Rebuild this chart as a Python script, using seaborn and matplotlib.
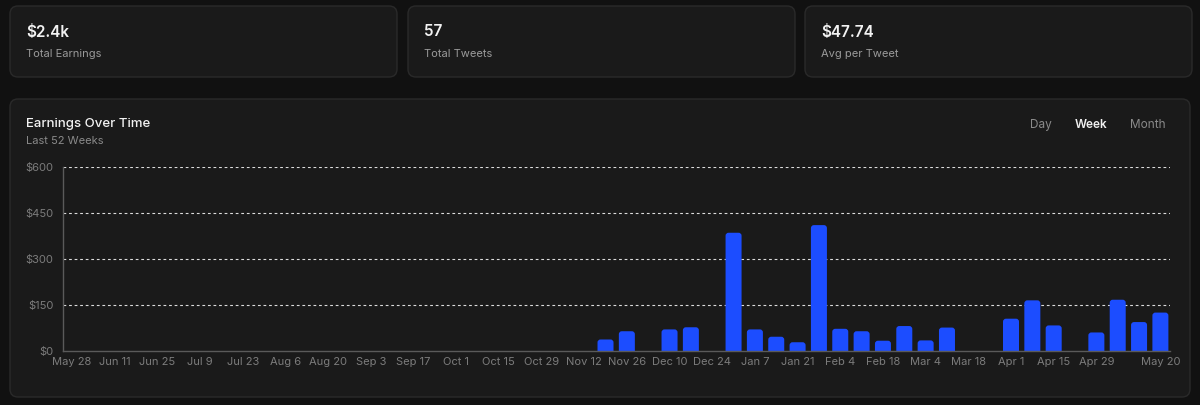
import matplotlib
matplotlib.use("Agg")
import matplotlib.pyplot as plt
from matplotlib.patches import FancyBboxPatch
import pandas as pd
import seaborn as sns

weeks = [
    "May 28", "Jun 4", "Jun 11", "Jun 18", "Jun 25", "Jul 2", "Jul 9", "Jul 16",
    "Jul 23", "Jul 30", "Aug 6", "Aug 13", "Aug 20", "Aug 27", "Sep 3", "Sep 10",
    "Sep 17", "Sep 24", "Oct 1", "Oct 8", "Oct 15", "Oct 22", "Oct 29", "Nov 5",
    "Nov 12", "Nov 19", "Nov 26", "Dec 3", "Dec 10", "Dec 17", "Dec 24", "Dec 31",
    "Jan 7", "Jan 14", "Jan 21", "Jan 28", "Feb 4", "Feb 11", "Feb 18", "Feb 25",
    "Mar 4", "Mar 11", "Mar 18", "Mar 25", "Apr 1", "Apr 8", "Apr 15", "Apr 22",
    "Apr 29", "May 6", "May 13", "May 20",
]
earnings = [
    0, 0, 0, 0, 0, 0, 0, 0, 0, 0, 0, 0, 0, 0, 0, 0,
    0, 0, 0, 0, 0, 0, 0, 0, 0, 36, 63, 0, 69, 76, 0, 385,
    69, 45, 27, 410, 71, 63, 32, 80, 33, 75, 0, 0, 104, 164, 82, 0,
    59, 166, 93, 124,
]
tick_weeks = [
    "May 28", "Jun 11", "Jun 25", "Jul 9", "Jul 23", "Aug 6", "Aug 20", "Sep 3",
    "Sep 17", "Oct 1", "Oct 15", "Oct 29", "Nov 12", "Nov 26", "Dec 10", "Dec 24",
    "Jan 7", "Jan 21", "Feb 4", "Feb 18", "Mar 4", "Mar 18", "Apr 1", "Apr 15",
    "Apr 29", "May 20",
]
y_ticks = [0, 150, 300, 450, 600]
y_labels = ["$0", "$150", "$300", "$450", "$600"]

stat_values = ["$2.4k", "57", "$47.74"]
stat_labels = ["Total Earnings", "Total Tweets", "Avg per Tweet"]
periods = ["Day", "Week", "Month"]

BG = "#111111"
PANEL = "#1a1a1a"
BORDER = "#2a2a2a"
BLUE = "#1c4dff"
MUTED = "#7c7c7c"

sns.set_theme(style="dark")
plt.rcParams["font.family"] = ["Inter", "DejaVu Sans"]

W, H = 1200, 405
fig = plt.figure(figsize=(W / 100, H / 100), dpi=100, facecolor=BG)


def px_box(x0, y0, x1, y1, r=8):
    # pixel coords from top-left, drawn in inches
    box = FancyBboxPatch(
        (x0 / 100, (H - y1) / 100), (x1 - x0) / 100, (y1 - y0) / 100,
        boxstyle=f"round,pad=0,rounding_size={r / 100}",
        transform=fig.dpi_scale_trans, facecolor=PANEL, edgecolor=BORDER,
        linewidth=1.0, zorder=-1,
    )
    fig.patches.append(box)


def px_text(x, y, s, **kw):
    fig.text(x / W, 1 - y / H, s, va="center", **kw)


# stat cards
card_x = [10, 408, 805]
for cx, val, lab in zip(card_x, stat_values, stat_labels):
    px_box(cx, 6, cx + 387, 77)
    px_text(cx + 16, 32, val, color="#f2f2f2", fontsize=11, fontweight="semibold")
    px_text(cx + 16, 54, lab, color="#9a9a9a", fontsize=8)

# chart panel
px_box(10, 99, 1190, 397)
px_text(26, 124, "Earnings Over Time", color="#f2f2f2", fontsize=9.5, fontweight="medium")
px_text(26, 141, "Last 52 Weeks", color="#8a8a8a", fontsize=8)
for px, p in zip([1041, 1091, 1148], periods):
    active = p == "Week"
    px_text(px, 125, p, ha="center", fontsize=8.5,
            color="#f0f0f0" if active else "#8a8a8a",
            fontweight="semibold" if active else "normal")

# bars
df = pd.DataFrame({"week": weeks, "earnings": earnings})
ax = fig.add_axes([63 / W, 1 - 350.5 / H, 1107 / W, 183.5 / H])
ax.set_zorder(2)
ax.set_facecolor("none")
sns.barplot(data=df, x="week", y="earnings", order=weeks, color=BLUE,
            width=0.75, saturation=1, ax=ax)

# rounded tops: swap rectangles for rounded boxes sunk below zero
for patch in list(ax.patches):
    x, w, h = patch.get_x(), patch.get_width(), patch.get_height()
    patch.remove()
    if h <= 0:
        continue
    ax.add_patch(FancyBboxPatch(
        (x, -15), w, h + 15,
        boxstyle="round,pad=0,rounding_size=0.14", mutation_aspect=70,
        facecolor=BLUE, edgecolor="none", zorder=2,
    ))

ax.set_xlim(-0.42, 51.45)
ax.set_ylim(0, 600)
ax.set_yticks(y_ticks)
ax.set_yticklabels(y_labels)
ax.set_xticks([weeks.index(t) for t in tick_weeks])
ax.set_xticklabels(tick_weeks)
ax.set_xlabel("")
ax.set_ylabel("")
ax.tick_params(axis="both", length=0, colors=MUTED, labelsize=8)
ax.tick_params(axis="y", pad=7)
ax.tick_params(axis="x", pad=5)

ax.grid(False)
for yv in y_ticks[1:]:
    ax.axhline(yv, color="#dcdcdc", linewidth=0.8, linestyle=(0, (2.5, 2.5)), zorder=1)

for side in ["top", "right"]:
    ax.spines[side].set_visible(False)
for side in ["left", "bottom"]:
    ax.spines[side].set_visible(True)
    ax.spines[side].set_color("#5a5a5a")
    ax.spines[side].set_linewidth(1.0)
    ax.spines[side].set_zorder(3)

fig.savefig("out.png", dpi=100, facecolor=BG)
